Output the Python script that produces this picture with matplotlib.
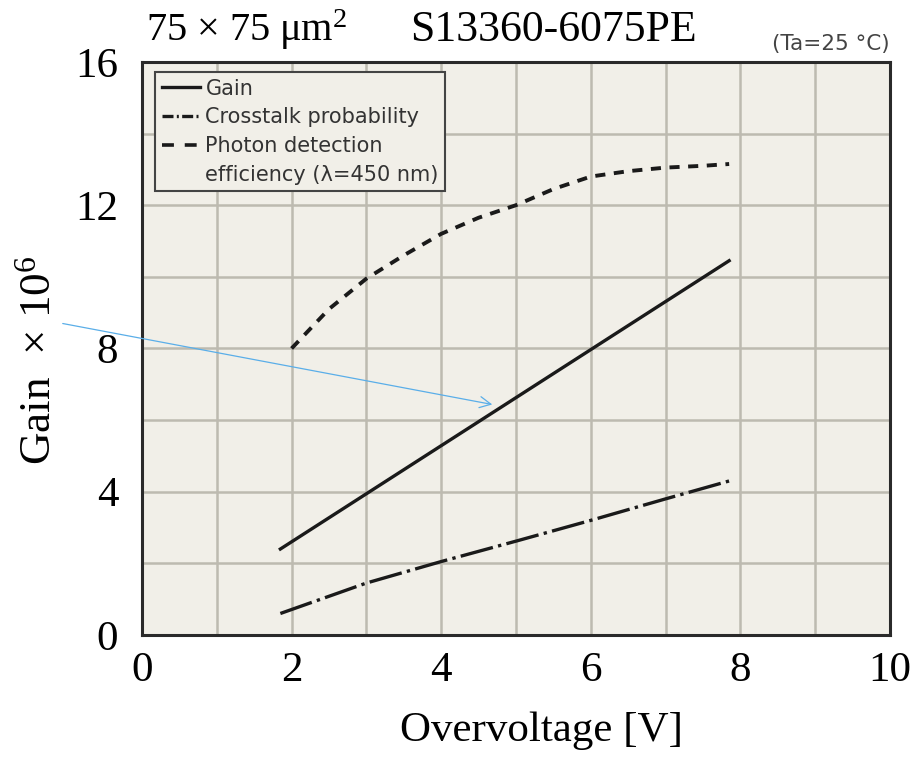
import matplotlib
matplotlib.use("Agg")
import matplotlib.pyplot as plt
from matplotlib.lines import Line2D
import numpy as np

plt.rcParams["mathtext.fontset"] = "custom"
plt.rcParams["mathtext.rm"] = "Liberation Serif"
plt.rcParams["mathtext.it"] = "Liberation Serif:italic"
plt.rcParams["mathtext.bf"] = "Liberation Serif:bold"

# Data
gain_x = [1.85, 7.85]
gain_y = [2.4, 10.45]

xtalk_x = [1.85, 3.0, 4.0, 5.0, 6.0, 7.0, 7.85]
xtalk_y = [0.6, 1.45, 2.05, 2.62, 3.2, 3.8, 4.3]

pde_x = [2.0, 2.5, 3.0, 3.5, 4.0, 4.5, 5.0, 5.5, 6.0, 6.5, 7.0, 7.5, 7.85]
pde_y = [8.0, 9.1, 9.95, 10.6, 11.2, 11.65, 12.0, 12.45, 12.8, 12.95, 13.05, 13.1, 13.15]

xticks = [0, 2, 4, 6, 8, 10]
yticks = [0, 4, 8, 12, 16]
legend_labels = ["Gain", "Crosstalk probability", "Photon detection", "efficiency (λ=450 nm)"]

fig = plt.figure(figsize=(9.19, 7.6), dpi=100)
ax = fig.add_axes([0.1545, 0.1645, 0.8139, 0.754])
ax.set_facecolor("#f1efe8")
ax.set_xlim(0, 10)
ax.set_ylim(0, 16)

# grid
for gx in np.arange(1, 10, 1):
    ax.axvline(gx, color="#bdbab0", lw=1.8, zorder=1)
for gy in np.arange(2, 16, 2):
    ax.axhline(gy, color="#bdbab0", lw=1.8, zorder=1)

for s in ax.spines.values():
    s.set_color("#2a2a2a")
    s.set_linewidth(2.2)

ax.plot(gain_x, gain_y, color="#1a1a1a", lw=2.4, ls="-", zorder=3)
ax.plot(xtalk_x, xtalk_y, color="#1a1a1a", lw=2.4, ls=(0, (10, 1.6, 1.0, 1.6)), zorder=3)
ax.plot(pde_x, pde_y, color="#1a1a1a", lw=2.8, ls=(0, (2.6, 2.2)), zorder=3)

ax.set_xticks(xticks)
ax.set_yticks(yticks)
ax.tick_params(length=0, labelsize=31)
ax.tick_params(axis="x", pad=12)
ax.tick_params(axis="y", pad=17)
for lab in ax.get_xticklabels() + ax.get_yticklabels():
    lab.set_fontfamily("Liberation Serif")

fig.text(542/919, 1-731/760, "Overvoltage [V]", fontsize=31, family="Liberation Serif",
         ha="center", va="center")
fig.text(39/919, 1-360/760, "Gain  × 10$^6$", fontsize=32.5, family="Liberation Serif",
         ha="center", va="center", rotation=90)

handles = [
    Line2D([], [], color="#1a1a1a", lw=2.4, ls="-"),
    Line2D([], [], color="#1a1a1a", lw=2.4, ls=(0, (3.3, 1.0, 0.6, 1.0))),
    Line2D([], [], color="#1a1a1a", lw=2.6, ls=(0, (3.3, 3.0))),
    Line2D([], [], color="none", lw=0),
]
leg = ax.legend(handles, legend_labels, loc="upper left", bbox_to_anchor=(0.018, 0.982),
                frameon=True, fancybox=False, edgecolor="#444444", facecolor="#f1efe8",
                prop={"family": "DejaVu Sans", "size": 15}, handlelength=1.85,
                handletextpad=0.25, labelspacing=0.42, borderpad=0.3,
                borderaxespad=0.0, framealpha=1.0)
leg.get_frame().set_linewidth(1.5)
for t in leg.get_texts():
    t.set_color("#333333")

fig.text(146/919, 1-30/760, "75 × 75 μm$^2$", fontsize=29, family="Liberation Serif",
         ha="left", va="center")
fig.text(410/919, 1-30/760, "S13360-6075PE", fontsize=31.5, family="Liberation Serif",
         ha="left", va="center")
fig.text(890/919, 1-44/760, "(Ta=25 °C)", fontsize=15.5, family="DejaVu Sans",
         color="#444444", ha="right", va="center")

fig.add_artist(matplotlib.patches.FancyArrowPatch(
    (60/919, 1-323/760), (495/919, 1-405/760), transform=fig.transFigure,
    arrowstyle="->,head_length=8,head_width=4", color="#5aaee8", lw=0.9))

fig.savefig("out.png", dpi=100)
